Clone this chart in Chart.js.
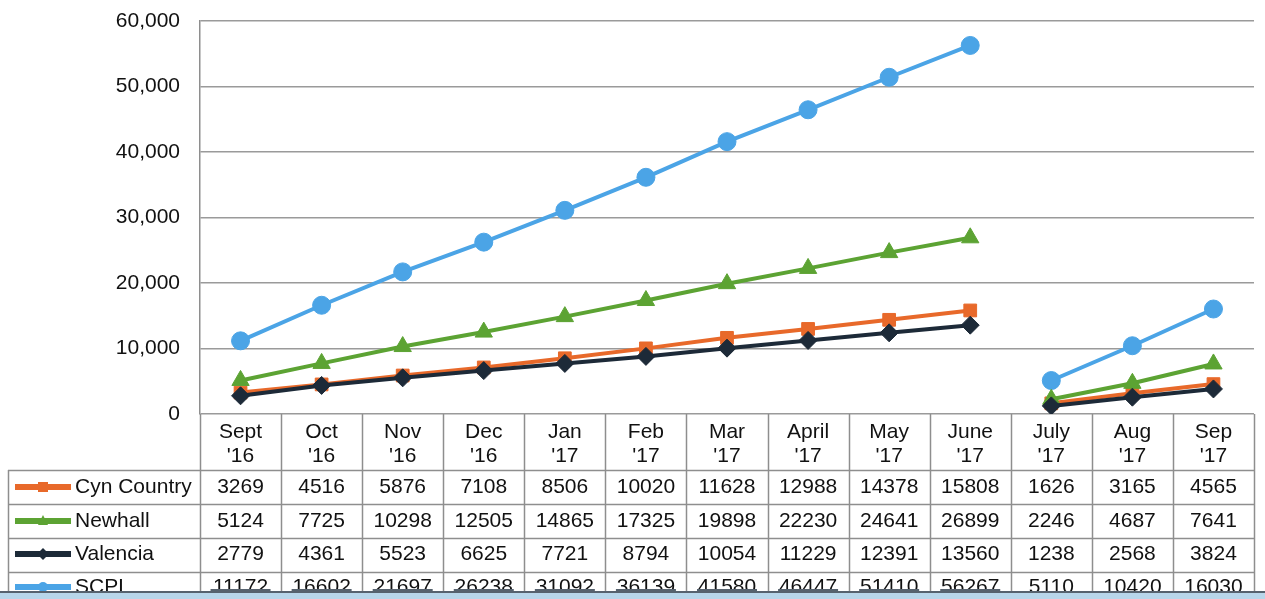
<!DOCTYPE html>
<html>
<head>
<meta charset="utf-8">
<script src="https://cdn.jsdelivr.net/npm/chart.js@4.4.1/dist/chart.umd.min.js"></script>
<style>
  html, body { margin: 0; padding: 0; background: #fff; }
  #wrap { width: 1265px; height: 599px; }
</style>
</head>
<body>
<div id="wrap"><canvas id="chart" width="1265" height="599"></canvas></div>
<script>
// categories (two lines each, as in the table header)
const months = ['Sept', 'Oct', 'Nov', 'Dec', 'Jan', 'Feb', 'Mar', 'April', 'May', 'June', 'July', 'Aug', 'Sep'];
const years = ["'16", "'16", "'16", "'16", "'17", "'17", "'17", "'17", "'17", "'17", "'17", "'17", "'17"];

const cynCountry = [3269, 4516, 5876, 7108, 8506, 10020, 11628, 12988, 14378, 15808, 1626, 3165, 4565];
const newhall = [5124, 7725, 10298, 12505, 14865, 17325, 19898, 22230, 24641, 26899, 2246, 4687, 7641];
const valencia = [2779, 4361, 5523, 6625, 7721, 8794, 10054, 11229, 12391, 13560, 1238, 2568, 3824];
const scpl = [11172, 16602, 21697, 26238, 31092, 36139, 41580, 46447, 51410, 56267, 5110, 10420, 16030];

const yTicks = [0, 10000, 20000, 30000, 40000, 50000, 60000];

// index where the fiscal year restarts (line is broken after it)
const breakAfter = 9;

const FONT = '"Liberation Sans", Arial, sans-serif';

function series(label, data, color, style, radius, order) {
  return {
    label: label,
    data: data,
    borderColor: color,
    backgroundColor: color,
    pointBackgroundColor: color,
    pointBorderColor: color,
    borderWidth: 4,
    pointStyle: style,
    pointRadius: radius,
    pointBorderWidth: 1,
    tension: 0,
    order: order,
    segment: {
      borderColor: ctx => ctx.p0DataIndex === breakAfter ? 'rgba(0,0,0,0)' : undefined
    }
  };
}

const datasets = [
  series('Cyn Country', cynCountry, '#e8692a', 'rect', 9, 2),
  series('Newhall', newhall, '#5ca333', 'triangle', 10, 1),
  series('Valencia', valencia, '#1d2a38', 'rectRot', 9, 0),
  series('SCPL', scpl, '#4ba4e6', 'circle', 9, 3)
];

// data table drawn under the plot, aligned with the category scale
const dataTable = {
  id: 'dataTable',
  afterDraw(chart) {
    const ctx = chart.ctx;
    const area = chart.chartArea;
    const x = chart.scales.x;
    const n = months.length;
    const colW = (area.right - area.left) / n;
    const top = area.bottom;
    const headBottom = 470;
    const rowLines = [470, 504, 538, 572];
    const rowMid = [487, 521, 554, 587];
    const labelLeft = 8;
    const H = chart.height;

    ctx.save();
    ctx.strokeStyle = '#8e8e8e';
    ctx.lineWidth = 1.5;
    // vertical lines
    for (let i = 0; i <= n; i++) {
      const px = Math.round(area.left + i * colW) + 0.5;
      ctx.beginPath();
      ctx.moveTo(px, top);
      ctx.lineTo(px, H);
      ctx.stroke();
    }
    ctx.beginPath();
    ctx.moveTo(labelLeft + 0.5, headBottom);
    ctx.lineTo(labelLeft + 0.5, H);
    ctx.stroke();
    // horizontal lines
    rowLines.forEach(y => {
      ctx.beginPath();
      ctx.moveTo(labelLeft, y + 0.5);
      ctx.lineTo(area.right, y + 0.5);
      ctx.stroke();
    });

    ctx.fillStyle = '#111';
    ctx.font = '21px ' + FONT;
    ctx.textAlign = 'center';
    ctx.textBaseline = 'middle';
    // header
    for (let i = 0; i < n; i++) {
      const cx = x.getPixelForValue(i);
      ctx.fillText(months[i], cx, 432);
      ctx.fillText(years[i], cx, 456);
    }
    // rows
    chart.data.datasets.forEach((ds, r) => {
      const y = rowMid[r];
      ds.data.forEach((v, i) => {
        ctx.fillText(String(v), x.getPixelForValue(i), y);
      });
      // legend key
      ctx.strokeStyle = ds.borderColor;
      ctx.lineWidth = 6;
      ctx.beginPath();
      ctx.moveTo(15, y);
      ctx.lineTo(71, y);
      ctx.stroke();
      ctx.fillStyle = ds.borderColor;
      const mx = 43, s = 5;
      ctx.beginPath();
      if (ds.pointStyle === 'rect') {
        ctx.rect(mx - s, y - s, 2 * s, 2 * s);
      } else if (ds.pointStyle === 'triangle') {
        ctx.moveTo(mx, y - s - 1); ctx.lineTo(mx + s, y + s - 1); ctx.lineTo(mx - s, y + s - 1);
      } else if (ds.pointStyle === 'rectRot') {
        ctx.moveTo(mx, y - s - 1); ctx.lineTo(mx + s + 1, y); ctx.lineTo(mx, y + s + 1); ctx.lineTo(mx - s - 1, y);
      } else {
        ctx.arc(mx, y, s, 0, Math.PI * 2);
      }
      ctx.closePath();
      ctx.fill();
      ctx.fillStyle = '#111';
      ctx.textAlign = 'left';
      ctx.fillText(ds.label, 75, y);
      ctx.textAlign = 'center';
    });

    // scanner edge at the bottom of the page
    ctx.fillStyle = '#b8d6ea';
    ctx.fillRect(0, 593, chart.width, H - 593);
    ctx.fillStyle = '#56626e';
    ctx.fillRect(0, 591, chart.width, 2);
    for (let i = 0; i <= breakAfter; i++) {
      const cx = x.getPixelForValue(i);
      ctx.fillRect(cx - 30, 589, 60, 3);
    }
    ctx.restore();
  }
};

new Chart(document.getElementById('chart').getContext('2d'), {
  type: 'line',
  data: {
    labels: months,
    datasets: datasets
  },
  options: {
    responsive: false,
    animation: false,
    layout: { padding: { top: 21, right: 7, bottom: 185, left: 0 } },
    plugins: {
      legend: { display: false },
      tooltip: { enabled: false }
    },
    scales: {
      x: {
        display: false,
        offset: true
      },
      y: {
        min: yTicks[0],
        max: yTicks[yTicks.length - 1],
        afterFit: scale => {
          scale.width = 200;
          scale.paddingTop = 0;
          scale.paddingBottom = 0;
        },
        afterBuildTicks: scale => { scale.ticks = yTicks.map(v => ({ value: v })); },
        ticks: {
          padding: 20,
          color: '#111',
          font: { family: FONT, size: 21 },
          callback: v => v.toLocaleString('en-US')
        },
        grid: { color: '#9a9a9a', lineWidth: 1.5, drawTicks: false },
        border: { display: true, color: '#8e8e8e', width: 1.5 }
      }
    }
  },
  plugins: [dataTable]
});
</script>
</body>
</html>
